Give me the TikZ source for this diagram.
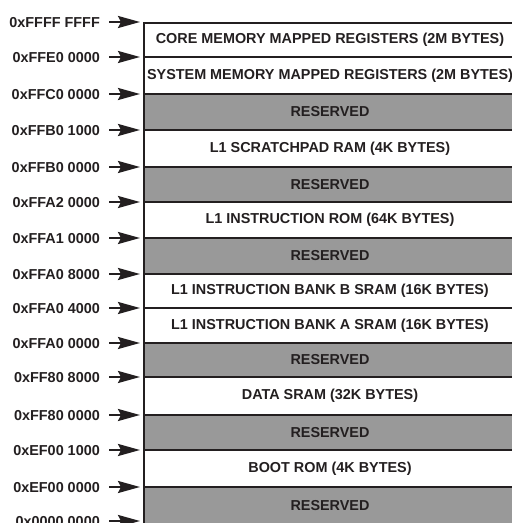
\documentclass[tikz,border=0pt]{standalone}
\usepackage{fontspec}
\setmainfont{Liberation Sans}
\usetikzlibrary{arrows.meta}
\definecolor{resgray}{RGB}{153,153,153}
\definecolor{ink}{RGB}{35,31,32}
\begin{document}
\begin{tikzpicture}[x=1pt,y=1pt,
  lab/.style={anchor=east, font=\fontsize{14.4}{16}\selectfont\bfseries, text=ink, inner sep=0pt},
  region/.style={draw=ink, line width=2.7pt, minimum width=372pt, inner sep=0pt, outer sep=0pt,
    anchor=north west, font=\fontsize{14.4}{16}\selectfont\bfseries, text=ink, fill=white},
  resv/.style={region, fill=resgray},
  arr/.style={-{Stealth[length=22pt,width=12pt,inset=3pt]}, line width=2.2pt, draw=ink}]
\clip (0,0) rectangle (512,523);
\fill[white] (0,0) rectangle (512,523);
% memory regions (top edges in px from the top)
\node[region, minimum height=34pt] (r1)  at (144,523-23)  {CORE MEMORY MAPPED REGISTERS (2M BYTES)};
\node[region, minimum height=37pt] (r2)  at (144,523-57)  {SYSTEM MEMORY MAPPED REGISTERS (2M BYTES)};
\node[resv,   minimum height=36pt] (r3)  at (144,523-94)  {RESERVED};
\node[region, minimum height=37pt] (r4)  at (144,523-130) {L1 SCRATCHPAD RAM (4K BYTES)};
\node[resv,   minimum height=35pt] (r5)  at (144,523-167) {RESERVED};
\node[region, minimum height=36pt] (r6)  at (144,523-202) {L1 INSTRUCTION ROM (64K BYTES)};
\node[resv,   minimum height=36pt] (r7)  at (144,523-238) {RESERVED};
\node[region, minimum height=34pt] (r8)  at (144,523-274) {L1 INSTRUCTION BANK B SRAM (16K BYTES)};
\node[region, minimum height=35pt] (r9)  at (144,523-308) {L1 INSTRUCTION BANK A SRAM (16K BYTES)};
\node[resv,   minimum height=34pt] (r10) at (144,523-343) {RESERVED};
\node[region, minimum height=38pt] (r11) at (144,523-377) {DATA SRAM (32K BYTES)};
\node[resv,   minimum height=35pt] (r12) at (144,523-415) {RESERVED};
\node[region, minimum height=37pt] (r13) at (144,523-450) {BOOT ROM (4K BYTES)};
\node[resv,   minimum height=37pt] (r14) at (144,523-487) {RESERVED};
% address labels and arrows
\foreach \i/\y/\t in {0/22/0xFFFF FFFF, 1/57/0xFFE0 0000, 2/94/0xFFC0 0000, 3/130/0xFFB0 1000,
    4/167/0xFFB0 0000, 5/202/0xFFA2 0000, 6/238/0xFFA1 0000, 7/274/0xFFA0 8000,
    8/308/0xFFA0 4000, 9/343/0xFFA0 0000, 10/377/0xFF80 8000, 11/415/0xFF80 0000,
    12/450/0xEF00 1000, 13/487/0xEF00 0000, 14/521/0x0000 0000}{
  \node[lab] (l\i) at (100,523-\y-1) {\t};
  \coordinate (b\i) at (144,523-\y);
  \draw[arr] ([xshift=9pt]l\i.east |- b\i) -- ([xshift=-4pt]b\i);
}
\end{tikzpicture}
\end{document}
